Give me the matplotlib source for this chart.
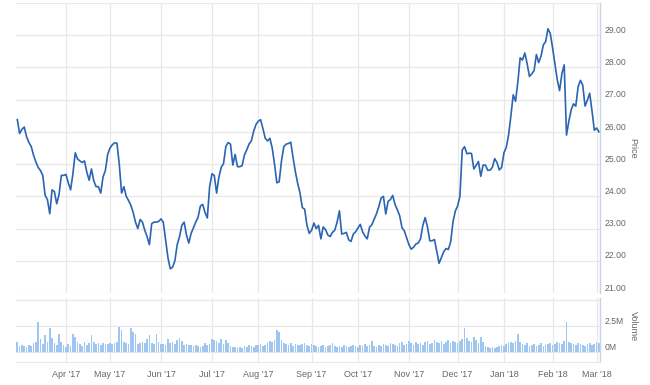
import matplotlib
matplotlib.use('Agg')
import matplotlib.pyplot as plt
import matplotlib.transforms as mtransforms
import numpy as np
import pandas as pd

plt.rcParams['font.family'] = ['Liberation Sans', 'DejaVu Sans']

# trading days, Mar 3 2017 - Mar 2 2018
holidays = ['2017-04-14', '2017-05-29', '2017-07-04', '2017-09-04', '2017-11-23',
            '2017-12-25', '2018-01-01', '2018-01-15', '2018-02-19']
dates = pd.bdate_range('2017-03-03', '2018-03-02', freq='C', holidays=holidays)

price = [
    26.38, 25.95, 26.08, 26.15, 25.85, 25.67, 25.55, 25.28, 25.07, 24.90,
    24.80, 24.65, 24.03, 23.90, 23.46, 24.20, 24.15, 23.77, 24.05, 24.65,
    24.65, 24.68, 24.42, 24.20, 24.70, 25.35, 25.16, 25.10, 25.05, 25.10,
    24.75, 24.50, 24.85, 24.48, 24.30, 24.30, 24.10, 24.60, 24.80, 25.30,
    25.50, 25.60, 25.66, 25.65, 25.00, 24.10, 24.30, 24.00, 23.87, 23.72,
    23.50, 23.20, 23.00, 23.28, 23.20, 22.95, 22.75, 22.50, 23.15, 23.20,
    23.20, 23.22, 23.30, 23.20, 22.65, 22.10, 21.75, 21.80, 22.00, 22.50,
    22.75, 23.10, 23.20, 22.80, 22.55, 22.85, 23.02, 23.20, 23.35, 23.70,
    23.75, 23.50, 23.33, 24.30, 24.70, 24.65, 24.10, 24.60, 24.90, 25.02,
    25.55, 25.67, 25.62, 24.97, 25.30, 24.92, 24.92, 24.95, 25.28, 25.44,
    25.62, 25.72, 26.02, 26.23, 26.33, 26.38, 26.10, 25.80, 25.72, 25.80,
    25.50, 25.00, 24.42, 24.45, 25.10, 25.54, 25.62, 25.64, 25.68, 25.20,
    24.76, 24.40, 24.10, 23.65, 23.60, 23.10, 22.85, 22.95, 23.17, 23.00,
    23.10, 22.68, 23.05, 22.97, 22.80, 22.75, 22.88, 22.95, 23.20, 23.55,
    22.83, 22.85, 22.88, 22.65, 22.60, 22.83, 22.90, 23.02, 23.13, 22.90,
    22.77, 22.68, 23.04, 23.12, 23.29, 23.46, 23.68, 23.95, 24.00, 23.45,
    23.84, 23.90, 24.03, 23.75, 23.58, 23.40, 23.03, 22.93, 22.72, 22.50,
    22.36, 22.42, 22.52, 22.55, 22.68, 23.10, 23.34, 23.05, 22.62, 22.62,
    22.66, 22.30, 21.92, 22.10, 22.28, 22.38, 22.35, 22.58, 23.20, 23.54,
    23.70, 24.00, 25.44, 25.54, 25.32, 25.34, 25.33, 24.85, 24.96, 25.08,
    24.62, 24.97, 24.97, 24.81, 24.81, 24.90, 25.17, 25.05, 24.82, 24.90,
    25.35, 25.52, 25.90, 26.50, 27.15, 26.95, 27.55, 28.30, 28.23, 28.45,
    28.12, 27.72, 27.80, 27.90, 28.40, 28.15, 28.35, 28.70, 28.80, 29.20,
    29.05, 28.60, 28.10, 27.62, 27.28, 27.80, 28.08, 25.90, 26.33, 26.68,
    26.87, 26.80, 27.40, 27.60, 27.45, 26.80, 26.98, 27.20, 26.65, 26.05,
    26.12, 26.00,
]

# volume in millions of shares
volume = [
    1.0, 0.6, 0.7, 0.6, 0.5, 0.7, 0.6, 0.9, 1.0, 2.9,
    1.3, 0.8, 1.6, 1.0, 2.3, 1.4, 0.9, 0.7, 1.75, 1.0,
    0.7, 0.5, 0.8, 0.6, 1.7, 1.5, 1.0, 0.8, 0.6, 1.0,
    0.7, 0.9, 1.6, 1.0, 0.8, 0.9, 0.7, 0.9, 0.8, 0.8,
    0.9, 0.8, 0.9, 1.0, 2.4, 2.1, 1.0, 0.9, 0.8, 2.3,
    1.9, 1.7, 0.8, 0.9, 1.0, 0.9, 1.3, 1.6, 0.9, 0.8,
    1.7, 1.0, 0.8, 0.8, 0.7, 1.3, 0.9, 1.0, 0.8, 1.2,
    1.4, 1.1, 0.7, 0.8, 0.7, 0.7, 0.6, 0.7, 0.6, 0.5,
    0.6, 0.9, 0.7, 0.8, 1.3, 1.2, 1.1, 0.9, 1.3, 0.8,
    1.2, 0.9, 0.6, 0.5, 0.5, 0.4, 0.5, 0.4, 0.6, 0.5,
    0.7, 0.6, 0.5, 0.7, 0.7, 0.8, 0.6, 0.7, 0.9, 1.1,
    1.0, 1.2, 2.1, 1.9, 1.2, 0.9, 0.8, 0.7, 0.9, 0.6,
    0.8, 0.7, 0.7, 0.8, 0.9, 0.7, 0.6, 0.8, 0.7, 0.6,
    0.5, 0.6, 0.7, 0.5, 0.6, 0.7, 0.9, 0.6, 0.5, 0.6,
    0.5, 0.7, 0.6, 0.5, 0.6, 0.7, 0.6, 0.5, 0.7, 0.6,
    0.8, 0.6, 0.7, 1.1, 0.6, 0.5, 0.7, 0.6, 0.8, 0.7,
    0.6, 0.9, 0.8, 0.7, 0.6, 0.9, 1.0, 0.7, 0.8, 1.1,
    0.9, 0.7, 1.0, 0.8, 0.9, 0.7, 1.0, 1.1, 0.8, 0.9,
    1.2, 1.0, 0.9, 1.1, 0.8, 1.0, 1.2, 0.9, 1.1, 1.0,
    0.9, 1.1, 1.3, 2.3, 1.4, 1.1, 1.0, 1.45, 1.2, 0.9,
    1.45, 1.0, 0.6, 0.5, 0.4, 0.5, 0.4, 0.5, 0.6, 0.7,
    0.6, 0.8, 0.9, 1.0, 0.9, 1.1, 1.7, 1.0, 0.8, 0.7,
    0.9, 0.6, 0.7, 0.8, 0.6, 0.7, 0.9, 0.6, 0.7, 0.8,
    0.9, 0.7, 0.8, 1.0, 0.9, 0.8, 1.1, 2.9, 1.0, 0.9,
    0.8, 0.7, 0.9, 0.8, 0.7, 0.6, 0.8, 0.9, 0.7, 0.8,
    1.0, 0.9,
]

price_ticks = [21, 22, 23, 24, 25, 26, 27, 28, 29, 30]
volume_ticks = [0, 2.5, 5]
volume_labels = ['0M', '2.5M', '']

x = np.arange(len(dates))
# first trading day of each month (skip the partial first month)
month_start = [i for i in range(1, len(dates)) if dates[i].month != dates[i - 1].month]
month_labels = [dates[i].strftime("%b '%y") for i in month_start]

line_color = '#2b64b3'
bar_color = '#9fc6f0'
grid_color = '#e8e8e8'
axis_color = '#c6d4e4'
text_color = '#666666'

fig = plt.figure(figsize=(6.5, 3.85), dpi=100)
ax = fig.add_axes([16 / 650, 1 - 293 / 385, 584 / 650, 290 / 385])
axv = fig.add_axes([16 / 650, 1 - 362 / 385, 584 / 650, 64 / 385], sharex=ax)

ax.plot(x, price, color=line_color, lw=1.2, solid_joinstyle='round')
axv.bar(x, volume, width=0.72, color=bar_color, linewidth=0)

ax.set_xlim(-0.56, 251.45)
ax.set_ylim(21, 30)
axv.set_ylim(-0.95, 5.2)

for a in (ax, axv):
    a.set_xticks(month_start)
    a.grid(True, color=grid_color, lw=0.9)
    a.set_axisbelow(True)
    for s in ('left', 'top', 'bottom'):
        a.spines[s].set_visible(False)
    a.spines['right'].set_color(axis_color)
    a.spines['right'].set_linewidth(1.0)
    a.yaxis.tick_right()
    a.tick_params(length=0, colors=text_color)

ax.tick_params(axis='x', labelbottom=False)
ax.set_yticks(price_ticks)
ax.set_yticklabels(['%.2f' % v if v < 30 else '' for v in price_ticks], fontsize=6.2)
ax.axhline(30, color=grid_color, lw=1.2)

axv.set_yticks(volume_ticks)
axv.set_yticklabels(volume_labels, fontsize=6.2)
axv.spines['bottom'].set_visible(True)
axv.spines['bottom'].set_color(grid_color)
axv.set_xticklabels(month_labels, fontsize=6.5)
axv.tick_params(axis='x', pad=6)

# labels sit a little above their gridlines
up = mtransforms.ScaledTranslation(0, 3.5 / 72, fig.dpi_scale_trans)
for a in (ax, axv):
    a.tick_params(axis='y', pad=3)
    for lab in a.get_yticklabels():
        lab.set_transform(lab.get_transform() + up)
        lab.set_verticalalignment('center')

fig.text(633 / 650, 1 - 148 / 385, 'Price', rotation=270, ha='center', va='center',
         fontsize=6.5, color=text_color)
fig.text(633 / 650, 1 - 326 / 385, 'Volume', rotation=270, ha='center', va='center',
         fontsize=6.5, color=text_color)

fig.savefig('out.png', dpi=100, facecolor='white')
